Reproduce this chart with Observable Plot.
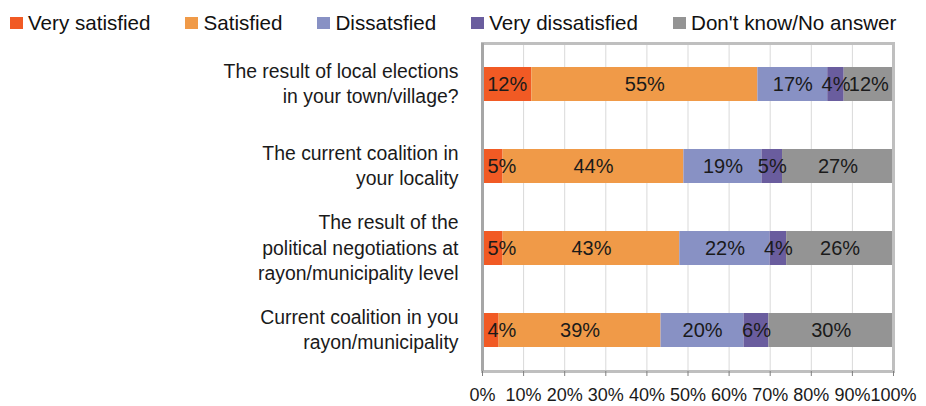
<!DOCTYPE html>
<html>
<head>
<meta charset="utf-8">
<script src="https://cdn.jsdelivr.net/npm/d3@7"></script>
<script src="https://cdn.jsdelivr.net/npm/@observablehq/plot@0.6"></script>
<style>
  body { margin: 0; background: #fff; font-family: "Liberation Sans", Arial, sans-serif; }
  #legend { height: 36px; box-sizing: border-box; padding: 10px 0 0 10px; display: flex; align-items: center; font-size: 20.6px; color: #111; }
  #legend .item { display: flex; align-items: center; margin-right: 35px; white-space: nowrap; }
  #legend .sw { width: 13px; height: 12px; margin-right: 5px; }
  svg { display: block; }
</style>
</head>
<body>
<div id="legend"></div>
<div id="chart"></div>
<script>
const categories = [
  "The result of local elections\nin your town/village?",
  "The current coalition in\nyour locality",
  "The result of the\npolitical negotiations at\nrayon/municipality level",
  "Current coalition in you\nrayon/municipality"
];
const series = ["Very satisfied", "Satisfied", "Dissatsfied", "Very dissatisfied", "Don't know/No answer"];
const colors = ["#F15A24", "#F09A48", "#8891C4", "#6A5D9E", "#949494"];

const verySatisfied    = [12, 5, 5, 4];
const satisfied        = [55, 44, 43, 39];
const dissatisfied     = [17, 19, 22, 20];
const veryDissatisfied = [4, 5, 4, 6];
const dontKnow         = [12, 27, 26, 30];

const xTicks = [0, 0.1, 0.2, 0.3, 0.4, 0.5, 0.6, 0.7, 0.8, 0.9, 1];

const seriesValues = [verySatisfied, satisfied, dissatisfied, veryDissatisfied, dontKnow];
// stacked, normalized shares (data transformation only; positions come from the x scale)
const data = [];
categories.forEach((q, i) => {
  const total = d3.sum(seriesValues, v => v[i]);
  let acc = 0;
  series.forEach((s, j) => {
    const v = seriesValues[j][i];
    const x1 = acc / total, x2 = (acc + v) / total;
    acc += v;
    data.push({q, series: s, value: v, x1, x2, mid: (x1 + x2) / 2, edge: j === 0 && v < 10});
  });
});

// legend
const legend = d3.select("#legend");
series.forEach((s, j) => {
  const it = legend.append("div").attr("class", "item");
  it.append("div").attr("class", "sw").style("background", colors[j]);
  it.append("span").text(s);
});

const chart = Plot.plot({
  width: 926,
  height: 370,
  marginLeft: 482,
  marginRight: 33,
  marginTop: 7,
  marginBottom: 35,
  style: {fontFamily: "Liberation Sans, Arial, sans-serif", color: "#1a1a1a", background: "#fff"},
  x: {domain: [0, 1], ticks: xTicks, tickFormat: d3.format(".0%")},
  y: {domain: categories, paddingInner: 0.585, paddingOuter: 0.29},
  color: {domain: series, range: colors},
  marks: [
    Plot.gridX(xTicks, {stroke: "#d9d9d9", strokeOpacity: 1}),
    Plot.barX(data, {x1: "x1", x2: "x2", y: "q", fill: "series"}),
    Plot.text(data.filter(d => !d.edge), {x: "mid", y: "q", text: d => d.value + "%", fontSize: 20, fill: "#1a1a1a"}),
    Plot.text(data.filter(d => d.edge), {x: "x1", y: "q", text: d => d.value + "%", fontSize: 20, fill: "#1a1a1a", textAnchor: "start", dx: 5}),
    Plot.frame({stroke: "#bfbfbf", strokeWidth: 3}),
    Plot.ruleX([0], {stroke: "#a6a6a6", strokeWidth: 3}),
    Plot.axisX(xTicks, {tickSize: 5, tickPadding: 12, fontSize: 18, stroke: "#7f7f7f", fill: "#1a1a1a", label: null, tickFormat: d3.format(".0%")}),
    Plot.axisY({tickSize: 0, tickPadding: 24, fontSize: 19.4, lineHeight: 1.3, fill: "#1a1a1a", label: null, textAnchor: "end", dy: -2})
  ]
});
document.getElementById("chart").appendChild(chart);
</script>
</body>
</html>
